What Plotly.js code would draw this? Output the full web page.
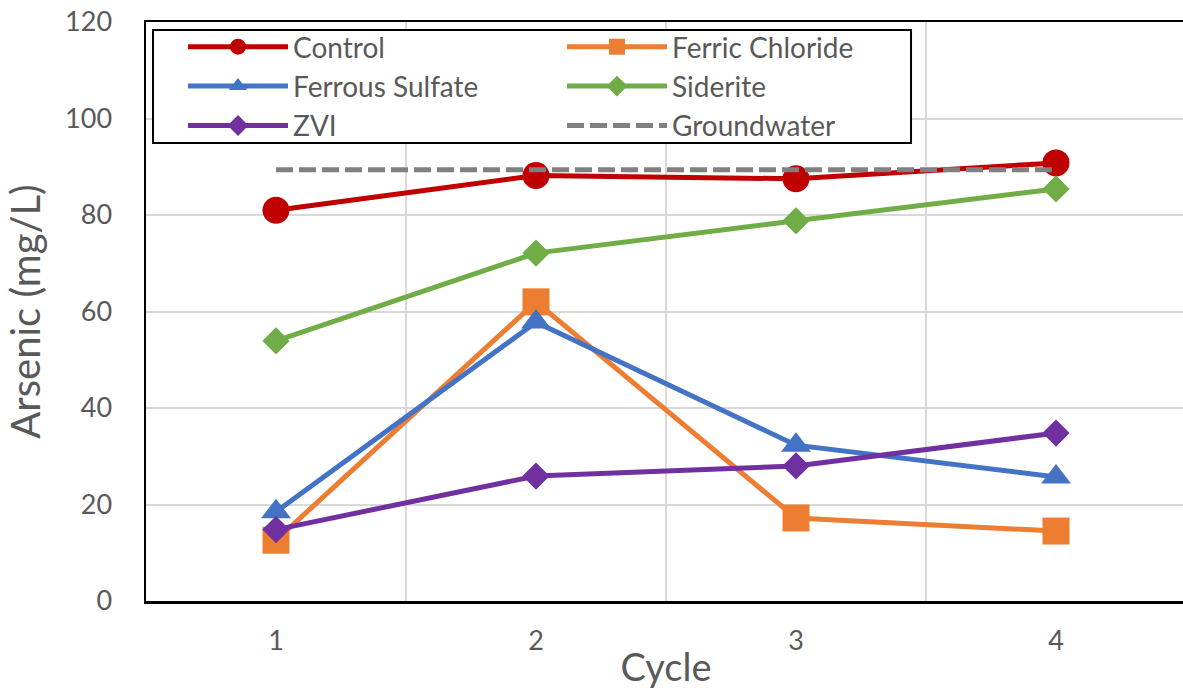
<!DOCTYPE html>
<html>
<head>
<meta charset="utf-8">
<script src="https://cdn.plot.ly/plotly-3.0.1.min.js"></script>
<style>
html, body { margin: 0; padding: 0; overflow: hidden; background: #fff; }
#chart { width: 1187px; height: 696px; }
</style>
</head>
<body>
<div id="chart"></div>
<script>
const cycles = ['1', '2', '3', '4'];
const control = [81.0, 88.2, 87.5, 90.8];
const ferricChloride = [12.6, 62.0, 17.2, 14.5];
const ferrousSulfate = [18.5, 57.8, 32.3, 25.7];
const siderite = [53.9, 72.1, 78.8, 85.4];
const zvi = [14.8, 25.9, 28.0, 34.8];
const groundwater = [89.4, 89.4, 89.4, 89.4];
const yTicks = [0, 20, 40, 60, 80, 100, 120];

const lw = 5;
function series(name, y, color, symbol, size) {
  return {
    type: 'scatter', mode: 'lines+markers', name: name,
    x: cycles, y: y,
    line: { color: color, width: lw },
    marker: { color: color, symbol: symbol, size: size }
  };
}

const traces = [
  series('Control', control, '#C00000', 'circle', 27),
  series('Ferric Chloride', ferricChloride, '#ED7D31', 'square', 27),
  series('Ferrous Sulfate', ferrousSulfate, '#4472C4', 'triangle-up', 26),
  series('Siderite', siderite, '#70AD47', 'diamond', 21),
  series('ZVI', zvi, '#7030A0', 'diamond', 21),
  {
    type: 'scatter', mode: 'lines', name: 'Groundwater',
    x: cycles, y: groundwater,
    line: { color: '#808080', width: 5, dash: '17px,6px' }
  }
];

const font = 'Lato, "Open Sans", sans-serif';
const layout = {
  width: 1187, height: 696,
  margin: { l: 146, r: 1, t: 22, b: 95 },
  paper_bgcolor: '#fff', plot_bgcolor: '#fff',
  font: { family: font, color: '#595959', size: 27 },
  showlegend: true,
  legend: {
    orientation: 'h',
    x: 0.0356, y: 1.0, xanchor: 'left', yanchor: 'top',
    bgcolor: 'rgba(0,0,0,0)', borderwidth: 0,
    entrywidth: 264, entrywidthmode: 'pixels',
    itemwidth: 100,
    font: { family: font, color: '#595959', size: 28 }
  },
  shapes: [{
    type: 'rect', xref: 'paper', yref: 'paper',
    x0: 0.00673, x1: 0.7356, y0: 0.791, y1: 0.9862,
    fillcolor: '#fff', line: { color: '#000', width: 2 }, layer: 'above'
  }],
  xaxis: {
    type: 'category',
    range: [-0.5, 3.5],
    tickson: 'boundaries',
    showgrid: true, gridcolor: '#D9D9D9', gridwidth: 2,
    showline: true, linecolor: '#000', linewidth: 2.5, mirror: true,
    ticks: '',
    ticklabelstandoff: 14,
    tickfont: { family: font, color: '#595959', size: 27 },
    title: { text: 'Cycle', font: { family: font, color: '#595959', size: 38 }, standoff: 0 },
    zeroline: false, fixedrange: true
  },
  yaxis: {
    range: [0, 120],
    tickvals: yTicks, ticktext: yTicks.map(String),
    showgrid: true, gridcolor: '#D9D9D9', gridwidth: 2,
    showline: true, linecolor: '#000', linewidth: 2.5,
    ticks: 'outside', ticklen: 26, tickcolor: 'rgba(0,0,0,0)',
    tickfont: { family: font, color: '#595959', size: 27 },
    title: { text: 'Arsenic (mg/L)', font: { family: font, color: '#595959', size: 40 }, standoff: 12 },
    zeroline: false, fixedrange: true
  }
};

Plotly.newPlot('chart', traces, layout, { displayModeBar: false, staticPlot: true });
</script>
</body>
</html>
